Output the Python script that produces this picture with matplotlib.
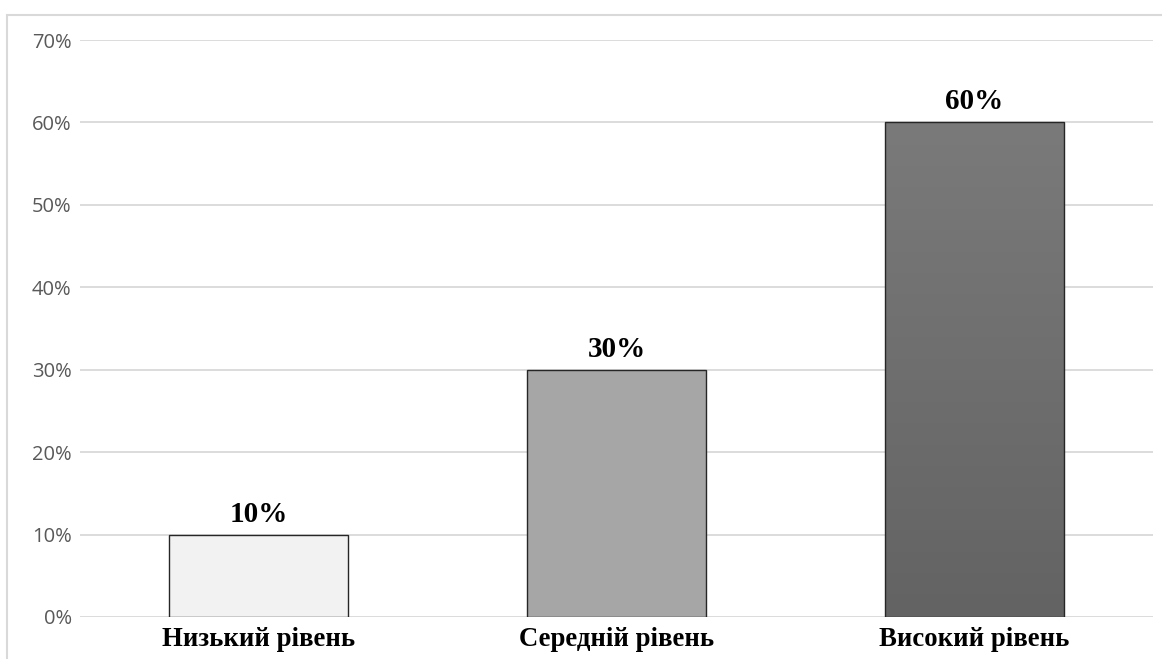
import matplotlib
matplotlib.use("Agg")
import matplotlib.pyplot as plt
import numpy as np
from matplotlib.colors import LinearSegmentedColormap

categories = ["Низький рівень", "Середній рівень", "Високий рівень"]
values = [0.10, 0.30, 0.60]
value_labels = ["10%", "30%", "60%"]
yticks = [0.0, 0.1, 0.2, 0.3, 0.4, 0.5, 0.6, 0.7]
ytick_labels = ["0%", "10%", "20%", "30%", "40%", "50%", "60%", "70%"]

W, H = 1162, 659
fig = plt.figure(figsize=(W / 100, H / 100), dpi=100)
fig.patch.set_facecolor("white")

# outer chart frame (partially visible)
frame = plt.Rectangle((7 / W, -0.1), 1.2, (H - 15) / H + 0.1, transform=fig.transFigure,
                      fill=False, edgecolor="#d9d9d9", linewidth=1.5)
fig.add_artist(frame)

ax = fig.add_axes([80 / W, 42 / H, (1153 - 80) / W, (617 - 40) / H])
x = np.arange(len(categories))
colors = ["#f2f2f2", "#a6a6a6", "none"]
bars = ax.bar(x, values, width=0.5, color=colors, edgecolor="#262626", linewidth=1.0, zorder=3)

# gradient fill for the third bar
b = bars[2]
cmap = LinearSegmentedColormap.from_list("g", ["#636363", "#7a7a7a"])
grad = np.linspace(0, 1, 256).reshape(-1, 1)
im = ax.imshow(grad, cmap=cmap, origin="lower", aspect="auto",
               extent=(b.get_x(), b.get_x() + b.get_width(), b.get_y(), b.get_y() + b.get_height()),
               zorder=2.5)
im.set_clip_path(b)

ax.set_xlim(-0.5, len(categories) - 0.5)
ax.set_ylim(0, 0.7)
ax.set_yticks(yticks)
ax.set_yticklabels(ytick_labels, fontfamily="Open Sans", fontsize=14.5, color="#595959")
ax.set_xticks(x)
ax.set_xticklabels(categories, fontfamily="Liberation Serif", fontweight="bold", fontsize=19.3, color="black")
ax.tick_params(axis="y", length=0, pad=6)
ax.tick_params(axis="x", length=0, pad=7)
ax.grid(axis="y", color="#d9d9d9", linewidth=1.3, zorder=0)
for s in ax.spines.values():
    s.set_visible(False)

for xi, v, lab in zip(x, values, value_labels):
    ax.annotate(lab, (xi, v), xytext=(0, 5), textcoords="offset points", ha="center", va="bottom",
                fontfamily="Liberation Serif", fontweight="bold", fontsize=21, color="black")

fig.savefig("out.png", dpi=100)
